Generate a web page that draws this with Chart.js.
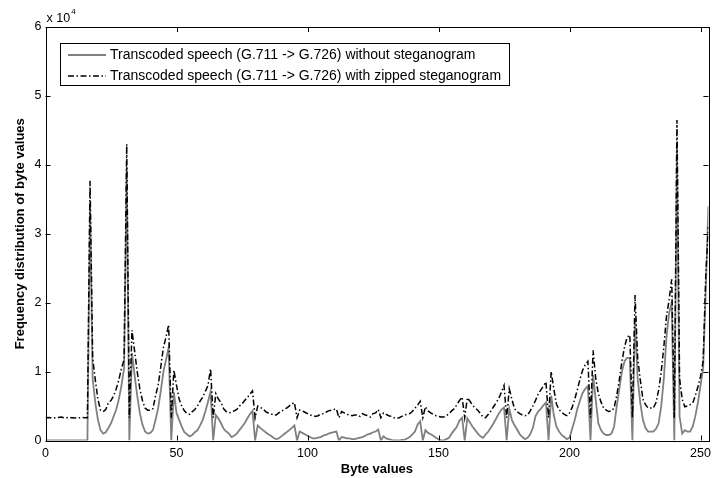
<!DOCTYPE html>
<html>
<head>
<meta charset="utf-8">
<script src="https://cdn.jsdelivr.net/npm/chart.js@4/dist/chart.umd.min.js"></script>
<style>
html,body{margin:0;padding:0;background:#fff;}
#c{display:block;}
</style>
</head>
<body>
<canvas id="c" width="717" height="478"></canvas>
<script>
// ---- data ----
const seriesLabels = [
  'Transcoded speech (G.711 -> G.726) without steganogram',
  'Transcoded speech (G.711 -> G.726) with zipped steganogram'
];
const xTicks = [0, 50, 100, 150, 200, 250];
const yTicks = [0, 1, 2, 3, 4, 5, 6];          // x 10^4
const yExponentLabel = 'x 10';
const yExponent = '4';
const xTitle = 'Byte values';
const yTitle = 'Frequency distribution of byte values';

// byte values 0..255 (16 per row)
const withoutSteg = [
  0,0,0,0,0,0,0,0,0,0,0,0,0,0,0,0,
  0,34500,9000,5500,3000,1500,1000,1200,1800,2500,3500,4500,6000,8000,10500,39700,
  0,12700,9500,6500,4000,2300,1300,1000,1100,1500,3000,4700,7200,10000,11700,13500,
  0,7000,4000,3000,2000,1200,900,600,800,1200,1500,2200,3000,4200,5600,7100,
  0,3700,3200,2500,1700,1300,1000,500,700,1000,1500,2000,2500,3200,3800,4300,
  0,2200,1800,1500,1200,900,700,400,200,300,600,900,1200,1500,1800,2200,
  0,1300,1100,900,700,500,300,300,400,500,700,800,1000,1100,1200,1300,
  0,500,400,300,300,200,200,300,400,500,700,900,1000,1200,1300,1600,
  0,600,300,200,100,0,0,0,100,100,300,500,900,1300,2300,2800,
  0,1500,1100,900,700,400,200,0,0,200,400,1000,1500,2000,2900,3300,
  0,3200,2600,2000,1500,1000,600,400,900,1300,1900,2500,3200,3900,4500,4800,
  0,4600,3000,2200,1600,900,500,200,400,900,1800,3500,4200,4600,5100,5500,
  0,6500,3700,2000,1300,800,500,200,400,1700,3000,4600,5800,6900,7500,7900,
  0,9500,5900,2500,1500,1000,800,800,1000,2000,4900,7500,10000,11500,12000,12000,
  0,17800,9000,5500,3000,1800,1300,1300,1300,1700,2500,5000,9000,15000,18500,20000,
  0,43200,3500,1000,1500,1300,1300,2000,3500,5500,8000,10500,22000,34000,38000,45000
];
const withZippedSteg = [
  3300,3350,3300,3250,3300,3350,3400,3300,3300,3350,3300,3250,3300,3300,3350,3300,
  3300,37700,12000,8800,6000,4400,4200,4500,5500,5800,6500,7500,8800,10500,11700,43000,
  3300,16000,13000,10000,7500,5800,4700,4400,4400,4600,6500,8000,10700,13500,15000,16800,
  3300,10200,8000,6000,5000,4300,3900,3800,4200,4500,5000,5700,6300,7100,8000,10400,
  3300,6800,6000,5500,4600,4200,4000,4100,4300,4500,5000,5300,5800,6200,6700,7200,
  3300,5000,4800,4600,4200,4000,3900,3700,3700,4000,4200,4500,4700,5000,5300,5500,
  3300,4400,4300,4100,3900,3700,3600,3500,3600,3800,3900,4100,4300,4400,4500,4600,
  3300,4200,4000,3800,3700,3600,3700,3700,3500,3900,3700,3600,3400,3900,4000,4500,
  3300,4000,3800,3600,3500,3300,3200,3300,3500,3700,3800,3900,4200,4700,5100,5700,
  3300,4900,4300,4000,3800,3600,3500,3400,3400,3600,3900,4300,4600,5200,5800,6300,
  3300,6200,5700,5100,4700,4400,3900,3400,3300,3800,4300,4900,5500,6100,7000,8000,
  3300,7500,6000,4600,4200,3900,3700,3600,3700,4300,5000,5800,6700,7300,7900,8500,
  3300,10000,7500,5300,4500,4100,3800,3600,4000,4800,6000,7400,8900,10200,11000,11500,
  3300,13100,9000,6800,5600,4700,4400,4200,4300,4700,6500,8800,11500,13600,15000,15300,
  3300,21100,12000,8800,6000,5200,4700,4700,4700,5500,7300,10000,13600,18000,20400,23400,
  3300,46500,9000,6000,4900,5000,5200,5400,6500,7800,9300,11500,24000,31000,38000,45000
];
const xMax = 253;

// ---- chart ----
const toPoints = arr => arr.map((v, i) => ({ x: i, y: v }));
const FONT = '"Liberation Sans", Arial, Helvetica, sans-serif';

const matlabFrame = {
  id: 'matlabFrame',
  afterDraw(chart) {
    const ctx = chart.ctx;
    const a = chart.chartArea;
    const xs = chart.scales.x, ys = chart.scales.y;
    ctx.save();
    ctx.strokeStyle = '#000';
    ctx.lineWidth = 1;
    ctx.strokeRect(Math.round(a.left) + 0.5, Math.round(a.top) + 0.5,
                   Math.round(a.right - a.left), Math.round(a.bottom - a.top));
    const tl = 5;
    ctx.beginPath();
    xTicks.forEach(v => {
      const px = Math.round(xs.getPixelForValue(v)) + 0.5;
      ctx.moveTo(px, a.bottom); ctx.lineTo(px, a.bottom - tl);
      ctx.moveTo(px, a.top); ctx.lineTo(px, a.top + tl);
    });
    yTicks.forEach(v => {
      const py = Math.round(ys.getPixelForValue(v * 10000)) + 0.5;
      ctx.moveTo(a.left, py); ctx.lineTo(a.left + tl, py);
      ctx.moveTo(a.right, py); ctx.lineTo(a.right - tl, py);
    });
    ctx.stroke();

    // exponent label
    ctx.fillStyle = '#000';
    ctx.textBaseline = 'alphabetic';
    ctx.textAlign = 'left';
    ctx.font = '12.5px ' + FONT;
    ctx.fillText(yExponentLabel, a.left + 1, 22);
    const w = ctx.measureText(yExponentLabel).width;
    ctx.font = '8px ' + FONT;
    ctx.fillText(yExponent, a.left + 2 + w, 14);

    // axis titles
    ctx.font = 'bold 13px ' + FONT;
    ctx.textAlign = 'center';
    ctx.textBaseline = 'middle';
    ctx.fillText(xTitle, (a.left + a.right) / 2, 469);
    ctx.save();
    ctx.translate(20, (a.top + a.bottom) / 2);
    ctx.rotate(-Math.PI / 2);
    ctx.fillText(yTitle, 0, 0);
    ctx.restore();

    // legend box
    const lx = 60, ly = 43, lw = 449, lh = 42;
    ctx.fillStyle = '#fff';
    ctx.fillRect(lx, ly, lw, lh);
    ctx.strokeStyle = '#000';
    ctx.lineWidth = 1;
    ctx.strokeRect(lx + 0.5, ly + 0.5, lw, lh);
    const ds = chart.data.datasets;
    const rows = [55, 76];
    ds.forEach((d, i) => {
      ctx.save();
      ctx.strokeStyle = d.borderColor;
      ctx.lineWidth = d.borderWidth;
      ctx.setLineDash(d.borderDash || []);
      ctx.beginPath();
      ctx.moveTo(68, rows[i]); ctx.lineTo(106, rows[i]);
      ctx.stroke();
      ctx.restore();
      ctx.fillStyle = '#000';
      ctx.font = '14px ' + FONT;
      ctx.textAlign = 'left';
      ctx.textBaseline = 'middle';
      ctx.fillText(d.label, 110, rows[i] + 0.5);
    });
    ctx.restore();
  }
};

new Chart(document.getElementById('c'), {
  type: 'line',
  data: {
    datasets: [
      {
        label: seriesLabels[0],
        data: toPoints(withoutSteg),
        borderColor: '#808080',
        borderWidth: 1.8,
        pointRadius: 0,
        tension: 0,
        order: 2
      },
      {
        label: seriesLabels[1],
        data: toPoints(withZippedSteg),
        borderColor: '#000000',
        borderWidth: 1.5,
        borderDash: [6, 2.5, 1.5, 2.5],
        pointRadius: 0,
        tension: 0,
        order: 1
      }
    ]
  },
  options: {
    responsive: false,
    animation: false,
    devicePixelRatio: 1,
    layout: { padding: { left: 0, right: 3, top: 27, bottom: 0 } },
    plugins: { legend: { display: false }, tooltip: { enabled: false } },
    scales: {
      x: {
        type: 'linear',
        min: 0,
        max: xMax,
        afterBuildTicks: s => { s.ticks = xTicks.map(v => ({ value: v })); },
        afterFit: s => { s.height = 37.5; },
        grid: { display: false, drawTicks: false },
        border: { display: false },
        ticks: { color: '#000', padding: 6, font: { family: FONT, size: 12.5 }, maxRotation: 0 }
      },
      y: {
        type: 'linear',
        min: 0,
        max: 60000,
        afterBuildTicks: s => { s.ticks = yTicks.map(v => ({ value: v * 10000 })); },
        afterFit: s => { s.width = 45.5; },
        grid: { display: false, drawTicks: false },
        border: { display: false },
        ticks: { color: '#000', padding: 4, font: { family: FONT, size: 12.5 },
                 callback: v => String(v / 10000) }
      }
    }
  },
  plugins: [matlabFrame]
});
</script>
</body>
</html>
